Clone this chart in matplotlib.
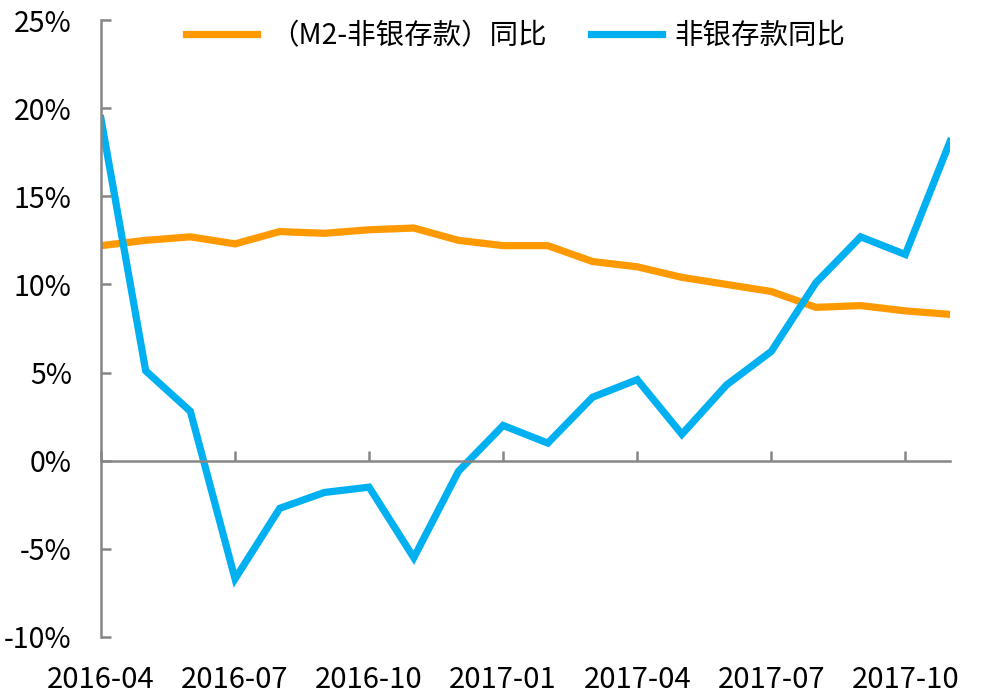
import matplotlib
matplotlib.use("Agg")
import matplotlib.pyplot as plt
import numpy as np

plt.rcParams['font.family'] = ['Noto Sans CJK SC', 'DejaVu Sans']

months = ['2016-04', '2016-05', '2016-06', '2016-07', '2016-08', '2016-09', '2016-10',
          '2016-11', '2016-12', '2017-01', '2017-02', '2017-03', '2017-04', '2017-05',
          '2017-06', '2017-07', '2017-08', '2017-09', '2017-10', '2017-11']
m2_ex_nonbank = [12.2, 12.5, 12.7, 12.3, 13.0, 12.9, 13.1, 13.2, 12.5, 12.2,
                 12.2, 11.3, 11.0, 10.4, 10.0, 9.6, 8.7, 8.8, 8.5, 8.3]
nonbank_dep = [19.4, 5.1, 2.8, -6.7, -2.7, -1.8, -1.5, -5.5, -0.6, 2.0,
               1.0, 3.6, 4.6, 1.5, 4.3, 6.2, 10.1, 12.7, 11.7, 18.1]
series_names = ['（M2-非银存款）同比', '非银存款同比']
yticks = [-10, -5, 0, 5, 10, 15, 20, 25]

orange = '#FF9900'
blue = '#00B0F0'
axis_gray = '#868686'

fig = plt.figure(figsize=(9.81, 6.98), dpi=100)
ax = fig.add_axes([101/981, 1-637/698, (950-101)/981, (637-20)/698])

x = np.arange(len(months))
ax.plot(x, m2_ex_nonbank, color=orange, lw=5.2, solid_joinstyle='miter', label=series_names[0])
ax.plot(x, nonbank_dep, color=blue, lw=5.2, solid_joinstyle='miter', label=series_names[1])

ax.set_xlim(0, len(months) - 1)
ax.set_ylim(-10, 25)
ax.set_yticks(yticks)
ax.set_yticklabels([f'{v}%' for v in yticks])
tick_idx = list(range(0, len(months), 3))
ax.set_xticks(tick_idx)
ax.set_xticklabels([months[i] for i in tick_idx])

for s in ['top', 'right']:
    ax.spines[s].set_visible(False)
ax.spines['left'].set_color(axis_gray)
ax.spines['left'].set_linewidth(1.8)
ax.spines['bottom'].set_color(axis_gray)
ax.spines['bottom'].set_linewidth(1.8)
ax.spines['bottom'].set_position(('data', 0))

ax.tick_params(axis='y', direction='in', length=7, width=1.8, color=axis_gray,
               labelsize=20.5, pad=21, labelcolor='black')
ax.tick_params(axis='x', direction='in', length=7, width=1.8, color=axis_gray,
               labelsize=21, pad=147, labelcolor='black')

fig.legend(loc='center', bbox_to_anchor=(516/981, 1-36/698), ncol=2, frameon=False,
           fontsize=20.5, handlelength=2.5, handletextpad=0.45, columnspacing=1.55)

fig.savefig('out.png', dpi=100)
